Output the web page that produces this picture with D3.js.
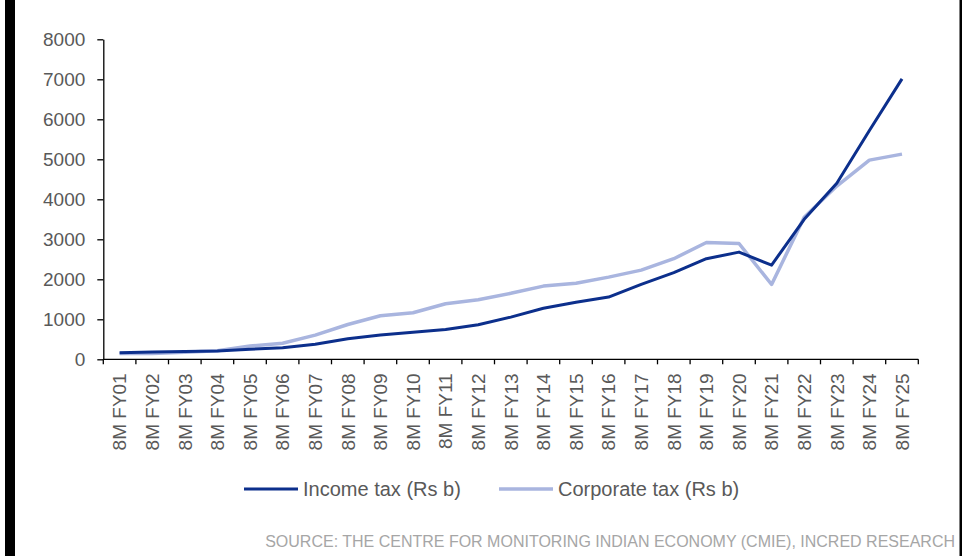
<!DOCTYPE html>
<html>
<head>
<meta charset="utf-8">
<script src="https://cdn.jsdelivr.net/npm/d3@7"></script>
<style>
  html, body { margin: 0; padding: 0; background: #fff; }
  svg { display: block; font-family: "Liberation Sans", Arial, sans-serif; }
</style>
</head>
<body>
<svg id="chart" width="969" height="556"></svg>
<script>
// Gross direct tax collections, April-November of each fiscal year (Rs b)
const categories = ["8M FY01","8M FY02","8M FY03","8M FY04","8M FY05","8M FY06","8M FY07",
  "8M FY08","8M FY09","8M FY10","8M FY11","8M FY12","8M FY13","8M FY14","8M FY15",
  "8M FY16","8M FY17","8M FY18","8M FY19","8M FY20","8M FY21","8M FY22","8M FY23",
  "8M FY24","8M FY25"];
const incomeTax = [165, 180, 195, 210, 250, 290, 375, 515, 610, 675, 745, 865, 1055,
  1275, 1425, 1555, 1875, 2165, 2515, 2680, 2355, 3500, 4400, 5720, 7010];
const corporateTax = [145, 148, 175, 215, 330, 400, 605, 870, 1090, 1165, 1390, 1490, 1650,
  1830, 1900, 2055, 2230, 2515, 2920, 2895, 1870, 3550, 4330, 4980, 5130];
const yTicks = [0, 1000, 2000, 3000, 4000, 5000, 6000, 7000, 8000];
const seriesNames = ["Income tax (Rs b)", "Corporate tax (Rs b)"];
const seriesColors = ["#0c2f8c", "#a9b5df"];
const sourceText = "SOURCE: THE CENTRE FOR MONITORING INDIAN ECONOMY (CMIE), INCRED RESEARCH";

const svg = d3.select("#chart");
const plotLeft = 103.3, plotRight = 918.3, plotTop = 39.3, plotBottom = 359.3;

// page frame: thick bar on the left, thin rule on the right
svg.append("rect").attr("x", 5).attr("y", 0).attr("width", 10).attr("height", 556).attr("fill", "#000");
svg.append("rect").attr("x", 959.5).attr("y", 0).attr("width", 2.5).attr("height", 556).attr("fill", "#000");

const x = d3.scaleBand().domain(categories).range([plotLeft, plotRight]).paddingInner(0).paddingOuter(0);
const y = d3.scaleLinear().domain([0, 8000]).range([plotBottom, plotTop]);
const cx = c => x(c) + x.bandwidth() / 2;

// y axis
const yAxis = svg.append("g").attr("transform", `translate(${plotLeft},0)`)
  .call(d3.axisLeft(y).tickValues(yTicks).tickSize(6).tickSizeOuter(0).tickPadding(12).tickFormat(d3.format("d")));
yAxis.select(".domain").attr("stroke", "#000").attr("stroke-width", 1.3);
yAxis.selectAll(".tick line").attr("stroke", "#000").attr("stroke-width", 1.3);
yAxis.selectAll(".tick text").attr("font-size", 19).attr("fill", "#595959")
  .attr("font-family", "Liberation Sans, Arial, sans-serif");

// x axis: ticks sit on category boundaries
const xAxis = svg.append("g").attr("transform", `translate(0,${plotBottom})`);
xAxis.append("line").attr("x1", plotLeft).attr("x2", plotRight).attr("stroke", "#000").attr("stroke-width", 1.3);
const bounds = categories.map(c => x(c)).concat([plotRight]);
xAxis.selectAll("line.tk").data(bounds).join("line").attr("class", "tk")
  .attr("x1", d => d).attr("x2", d => d).attr("y1", 0).attr("y2", 5)
  .attr("stroke", "#000").attr("stroke-width", 1.3);
xAxis.selectAll("text").data(categories).join("text")
  .attr("transform", d => `translate(${cx(d)},14) rotate(-90)`)
  .attr("text-anchor", "end").attr("dy", "0.36em")
  .attr("font-size", 19).attr("fill", "#595959").text(d => d);

// series lines (corporate drawn first, income on top)
const line = d3.line().x((d, i) => cx(categories[i])).y(d => y(d));
[[corporateTax, 1], [incomeTax, 0]].forEach(([vals, idx]) => {
  svg.append("path").datum(vals).attr("d", line).attr("fill", "none")
    .attr("stroke", seriesColors[idx]).attr("stroke-width", idx === 0 ? 3 : 3.5)
    .attr("stroke-linejoin", "round");
});

// legend
const legendItems = [{x: 244, w: 54, tx: 303}, {x: 499, w: 54, tx: 558}];
legendItems.forEach((it, i) => {
  svg.append("line").attr("x1", it.x).attr("x2", it.x + it.w).attr("y1", 489).attr("y2", 489)
    .attr("stroke", seriesColors[i]).attr("stroke-width", i === 0 ? 3 : 3.5);
  svg.append("text").attr("x", it.tx).attr("y", 489).attr("dy", "0.35em")
    .attr("font-size", 20).attr("fill", "#595959").text(seriesNames[i]);
});

// source note
svg.append("text").attr("x", 955).attr("y", 547).attr("text-anchor", "end")
  .attr("font-size", 16).attr("fill", "#a6a6a6").text(sourceText);
</script>
</body>
</html>
